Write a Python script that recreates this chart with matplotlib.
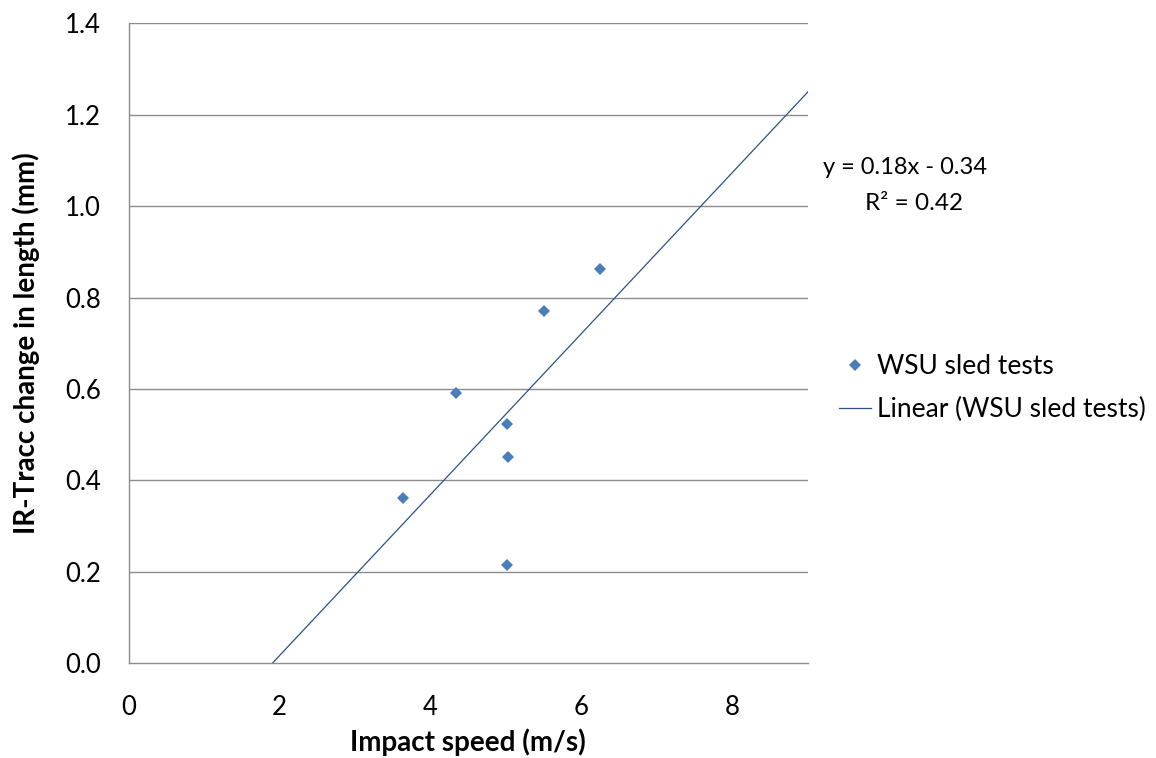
import numpy as np
import matplotlib
matplotlib.use("Agg")
import matplotlib.pyplot as plt
from matplotlib.lines import Line2D

# Data
speed = [3.63, 4.34, 5.01, 5.02, 5.01, 5.50, 6.25]
delta_len = [0.361, 0.591, 0.523, 0.451, 0.215, 0.771, 0.863]
x_ticks = [0, 2, 4, 6, 8]
y_ticks = [0.0, 0.2, 0.4, 0.6, 0.8, 1.0, 1.2, 1.4]
series_label = "WSU sled tests"
trend_label = "Linear (WSU sled tests)"

plt.rcParams['font.family'] = ['Lato', 'DejaVu Sans']

W, H = 1156, 758
fig = plt.figure(figsize=(W / 100, H / 100), dpi=100)
left, right, top, bottom = 128.5, 808, 23.3, 663.3
ax = fig.add_axes([left / W, 1 - bottom / H, (right - left) / W, (bottom - top) / H])

grid_col = '#8c8c8c'
marker_col = '#4a7ebb'
trend_col = '#2c5287'

# Fit
xs = np.array(speed)
ys = np.array(delta_len)
slope, intercept = np.polyfit(xs, ys, 1)
pred = slope * xs + intercept
r2 = 1 - np.sum((ys - pred) ** 2) / np.sum((ys - ys.mean()) ** 2)

ax.set_xlim(0, 9)
ax.set_ylim(0, 1.4)
for yv in y_ticks[1:]:
    ax.axhline(yv, color=grid_col, lw=1.0, zorder=0)

xl = np.array([0, 9])
ax.plot(xl, slope * xl + intercept, color=trend_col, lw=0.9, zorder=2)
ax.plot(xs, ys, linestyle='none', marker='D', ms=6.2, color=marker_col,
        markeredgewidth=0, zorder=3)

ax.set_xticks(x_ticks)
ax.set_yticks(y_ticks)
ax.set_xticklabels([str(v) for v in x_ticks])
ax.set_yticklabels([f"{v:.1f}" for v in y_ticks])
ax.tick_params(axis='both', length=0, labelsize=18.5, colors='black')
ax.tick_params(axis='x', pad=23)
ax.tick_params(axis='y', pad=20)

for s in ['top', 'right']:
    ax.spines[s].set_visible(False)
for s in ['left', 'bottom']:
    ax.spines[s].set_color(grid_col)
    ax.spines[s].set_linewidth(1.0)

ax.set_xlabel("Impact speed (m/s)", fontsize=20, fontweight='bold', labelpad=6)
ax.set_ylabel("IR-Tracc change in length (mm)", fontsize=20, fontweight='bold', labelpad=18)

sign = '-' if intercept < 0 else '+'
fig.text(905 / W, 1 - 168 / H, f"y = {slope:.2f}x {sign} {abs(intercept):.2f}",
         fontsize=17, ha='center', va='center')
fig.text(914 / W, 1 - 204 / H, f"R² = {r2:.2f}", fontsize=17.5, ha='center', va='center')

handles = [Line2D([], [], linestyle='none', marker='D', ms=6.2, color=marker_col, markeredgewidth=0),
           Line2D([], [], color=trend_col, lw=0.9)]
fig.legend(handles, [series_label, trend_label], loc='upper left',
           bbox_to_anchor=(839 / W, 1 - 354 / H), frameon=False, fontsize=19,
           handlelength=1.2, handletextpad=0.25, labelspacing=0.68,
           borderpad=0, borderaxespad=0)

fig.savefig("out.png", dpi=100)
